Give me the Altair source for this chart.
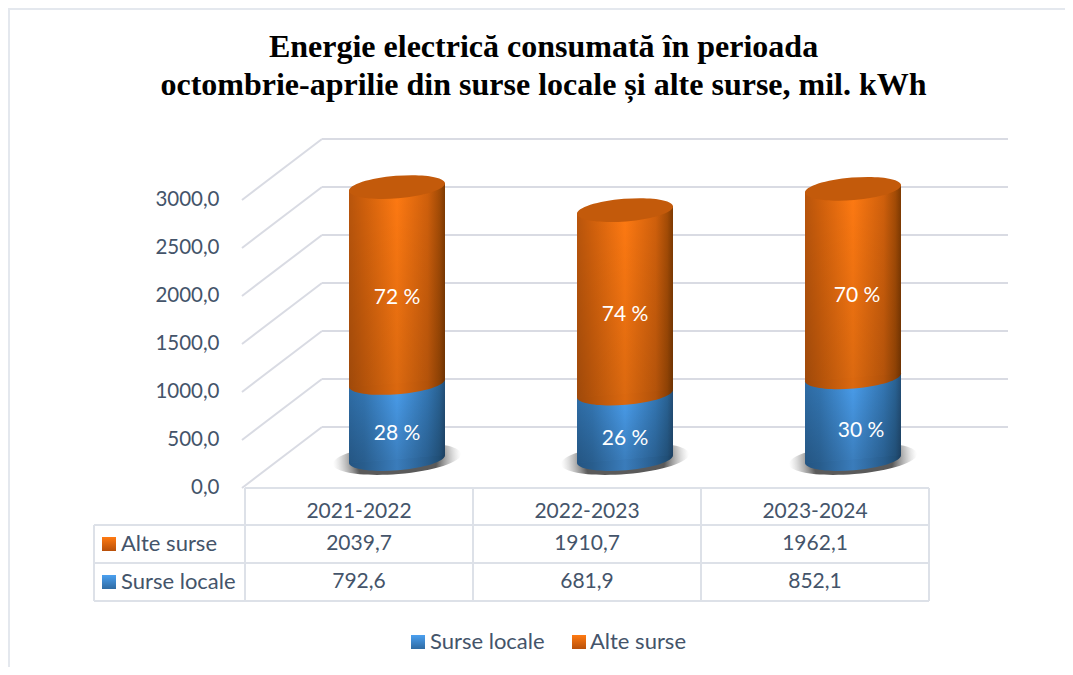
import altair as alt
import pandas as pd

# ---- values
categories = ["2021-2022", "2022-2023", "2023-2024"]
surse_locale = [792.6, 681.9, 852.1]
alte_surse = [2039.7, 1910.7, 1962.1]
pct_locale = [28, 26, 30]
pct_alte = [72, 74, 70]
tick_values = [0, 500, 1000, 1500, 2000, 2500, 3000]
series_names = ["Alte surse", "Surse locale"]
title_lines = ["Energie electrică consumată în perioada",
               "octombrie-aprilie din surse locale și alte surse, mil. kWh"]

# ---- layout, in scale units (x: table columns, y: kWh)
W, H = 1057, 659
XMIN, XMAX = -237 / 228, 820 / 228
YMIN, YMAX = -179 / 0.096, 5000
WALL_DX, WALL_DY = 80 / 228, 61 / 0.096      # depth of the 3D box
CYL_DX, CYL_DY = 38 / 228, 29 / 0.096        # cylinders stand half way back
CYL_HALF = 48 / 228
TILT = 4 / 0.096
ROW_TOP = -385
ROW_H = 396
LEFT_COL = -151 / 228
WALL_RIGHT = 763 / 228
def px_x(p): return (p - 245) / 228
def px_y(p): return (488 - p) / 0.096

TXT = "#44546A"
LINE = "#D9DBE3"
FONT = "Lato"

sx = alt.Scale(domain=[XMIN, XMAX], range=[0, W], nice=False, zero=False)
sy = alt.Scale(domain=[YMIN, YMAX], range=[H, 0], nice=False, zero=False)
yaxis = alt.Axis(values=tick_values, domain=False, ticks=False, grid=False, title=None,
                 labelExpr="replace(format(datum.value,'.1f'),'.',',')", labelFont=FONT,
                 labelFontSize=20.5, labelColor=TXT, labelPadding=2, offset=-213,
                 labelOffset=-1, labelOverlap=False, labelBound=False, labelFlush=False)
X = alt.X("x:Q", scale=sx, axis=None)
Y = alt.Y("y:Q", scale=sy, axis=yaxis)

def hgrad(stops):
    return alt.Gradient(gradient="linear", x1=0, x2=1, y1=0, y2=0,
                        stops=[alt.GradientStop(offset=o, color=c) for o, c in stops])
def vgrad(c1, c2):
    return alt.Gradient(gradient="linear", x1=0, x2=0, y1=0, y2=1,
                        stops=[alt.GradientStop(offset=0, color=c1), alt.GradientStop(offset=1, color=c2)])
def dim(stops, k):
    out = []
    for o, c in stops:
        r, g, b = int(c[1:3], 16), int(c[3:5], 16), int(c[5:7], 16)
        out.append((o, f"#{int(r * k):02X}{int(g * k):02X}{int(b * k):02X}"))
    return out

OR_STOPS = [(0, "#B9550C"), (.16, "#D0600C"), (.5, "#FF7A12"), (.82, "#D0600C"), (.94, "#A44C06"), (1, "#7E3A02")]
BL_STOPS = [(0, "#2F6EA8"), (.16, "#3478B6"), (.5, "#4BA0F0"), (.82, "#3478B6"), (.94, "#2A6496"), (1, "#234F78")]
OR_DARK, BL_DARK = 0.14, 0.22
OR_BODY = hgrad(OR_STOPS)
OR_LOW = hgrad(dim(OR_STOPS, 1 - OR_DARK))
BL_BODY = hgrad(BL_STOPS)
BL_LOW = hgrad(dim(BL_STOPS, 1 - BL_DARK))
OR_SHADE = vgrad("rgba(0,0,0,0)", f"rgba(0,0,0,{OR_DARK})")
BL_SHADE = vgrad("rgba(0,0,0,0)", f"rgba(0,0,0,{BL_DARK})")
SHADOW = alt.Gradient(gradient="radial", x1=.5, y1=.5, r1=0, x2=.5, y2=.5, r2=.5,
                      stops=[alt.GradientStop(offset=0, color="rgba(90,90,90,1)"),
                             alt.GradientStop(offset=.62, color="rgba(90,90,90,1)"),
                             alt.GradientStop(offset=1, color="rgba(170,170,170,0)")])
ELLIPSE = "M-1,0.083A1,0.235,-4.7,1,1,1,-0.083A1,0.235,-4.7,1,1,-1,0.083Z"
CYL_SIZE = 96 ** 2
SHADOW_SIZE = 128 ** 2

# ---- derived tables
cyl = pd.DataFrame({"cat": categories, "local": surse_locale, "alte": alte_surse})
cyl["x"] = [i + .5 + CYL_DX for i in range(3)]
cyl["base"] = CYL_DY
cyl["mid"] = cyl["local"] + CYL_DY
cyl["top"] = cyl["local"] + cyl["alte"] + CYL_DY

def body(lo, hi):
    rows = []
    for _, r in cyl.iterrows():
        rows.append(dict(cat=r["cat"], x=r["x"] - CYL_HALF, y=r[hi] - TILT, y2=r[lo] - TILT))
        rows.append(dict(cat=r["cat"], x=r["x"] + CYL_HALF, y=r[hi] + TILT, y2=r[lo] + TILT))
    return pd.DataFrame(rows)

def ell(col):
    return pd.DataFrame({"x": cyl["x"], "y": cyl[col]})

def pts(df, fill, size):
    return alt.Chart(df).mark_point(shape=ELLIPSE, size=size, filled=True, fill=fill,
                                    opacity=1, strokeWidth=0).encode(x=X, y=Y)

def area(df, fill):
    return alt.Chart(df).mark_area(fill=fill, interpolate="linear").encode(
        x=X, y=Y, y2="y2:Q", detail="cat:N")

def rules(rows, color=LINE, width=2):
    return alt.Chart(pd.DataFrame(rows, columns=["x", "y", "x2", "y2"])).mark_rule(
        color=color, strokeWidth=width).encode(x=X, y=Y, x2="x2:Q", y2="y2:Q")

def text(rows, size=21, color=TXT, align="center", dy=0, font=FONT):
    return alt.Chart(pd.DataFrame(rows, columns=["x", "y", "t"])).mark_text(
        fontSize=size, color=color, align=align, baseline="middle", dy=dy, font=font
    ).encode(x=X, y=Y, text="t:N")

def swatch(rows, fill):
    return alt.Chart(pd.DataFrame(rows, columns=["x", "y", "x2", "y2"])).mark_rect(fill=fill).encode(
        x=X, y=Y, x2="x2:Q", y2="y2:Q")

fmt = lambda v: f"{v:.1f}".replace(".", ",")

# ---- 3D box
diag = pd.DataFrame({"x": [px_x(242)] * 7, "y": tick_values,
                     "x2": [px_x(242) + WALL_DX] * 7,
                     "y2": [v + WALL_DY for v in tick_values]})
grid_diag = alt.Chart(diag).mark_rule(color=LINE, strokeWidth=2).encode(x=X, y=Y, x2="x2:Q", y2="y2:Q")
grid_back = rules([(px_x(242) + WALL_DX, v + WALL_DY, WALL_RIGHT, v + WALL_DY) for v in tick_values])

# ---- data table
row_y = [ROW_TOP, ROW_TOP - ROW_H, ROW_TOP - 2 * ROW_H]
tbl = rules(
    [(0, 0, 3, 0)] + [(LEFT_COL, y, 3, y) for y in row_y] +
    [(c, 0, c, row_y[2]) for c in range(4)] + [(LEFT_COL, row_y[0], LEFT_COL, row_y[2])],
    color="#DDE1E8")
hdr = text([(i + .5, px_y(512), c) for i, c in enumerate(categories)])
vals = text([(i + .5, px_y(544), fmt(v)) for i, v in enumerate(alte_surse)] +
            [(i + .5, px_y(582), fmt(v)) for i, v in enumerate(surse_locale)])
row_names = text([(px_x(121), px_y(544), series_names[0]), (px_x(121), px_y(582), series_names[1])],
                 size=22, align="left")
OR_SW = vgrad("#FF7A12", "#B8500A")
BL_SW = vgrad("#4BA0F0", "#2F6BA3")
sw_or = swatch([(px_x(102), px_y(537), px_x(116), px_y(551)), (px_x(572), px_y(635), px_x(586), px_y(649))], OR_SW)
sw_bl = swatch([(px_x(102), px_y(575), px_x(116), px_y(589)), (px_x(411), px_y(635), px_x(425), px_y(649))], BL_SW)
legend = text([(px_x(430), px_y(642), series_names[1]), (px_x(590), px_y(642), series_names[0])],
              size=22, align="left")

# ---- outer frame
frame = rules([(XMIN + 1 / 228, YMIN, XMIN + 1 / 228, YMAX), (XMIN, YMAX - 1 / .096, XMAX, YMAX - 1 / .096)],
              color="#E4E8EE")

# ---- cylinders
cyl_layers = [
    pts(ell("base"), SHADOW, SHADOW_SIZE),
    pts(ell("base"), BL_LOW, CYL_SIZE),
    area(body("base", "mid"), BL_BODY),
    area(body("base", "mid"), BL_SHADE),
    pts(ell("mid"), OR_LOW, CYL_SIZE),
    area(body("mid", "top"), OR_BODY),
    area(body("mid", "top"), OR_SHADE),
    pts(ell("top"), "#C35A0B", CYL_SIZE),
]
shift = [0, 0, 4 / 228]
labels = text(
    [(cyl["x"][i] + shift[i], (cyl["mid"][i] + cyl["top"][i]) / 2, f"{pct_alte[i]} %") for i in range(3)] +
    [(cyl["x"][i] + 2 * shift[i], (cyl["base"][i] + cyl["mid"][i]) / 2, f"{pct_locale[i]} %") for i in range(3)],
    color="white", dy=13)

chart = alt.layer(grid_diag, frame, grid_back, tbl, hdr, vals, row_names, sw_or, sw_bl, legend,
                  *cyl_layers, labels).properties(
    width=W, height=H, padding=0, autosize=alt.AutoSizeParams(type="none"),
    title=alt.TitleParams(text=title_lines, font="Liberation Serif", fontSize=32, fontWeight="bold",
                          color="#000000", anchor="middle", frame="group", lineHeight=38,
                          baseline="top", dx=7, dy=94.5, offset=0),
).configure_view(stroke=None).configure(background="white")

chart.save("out.html", embed_options={"renderer": "svg", "actions": False})
